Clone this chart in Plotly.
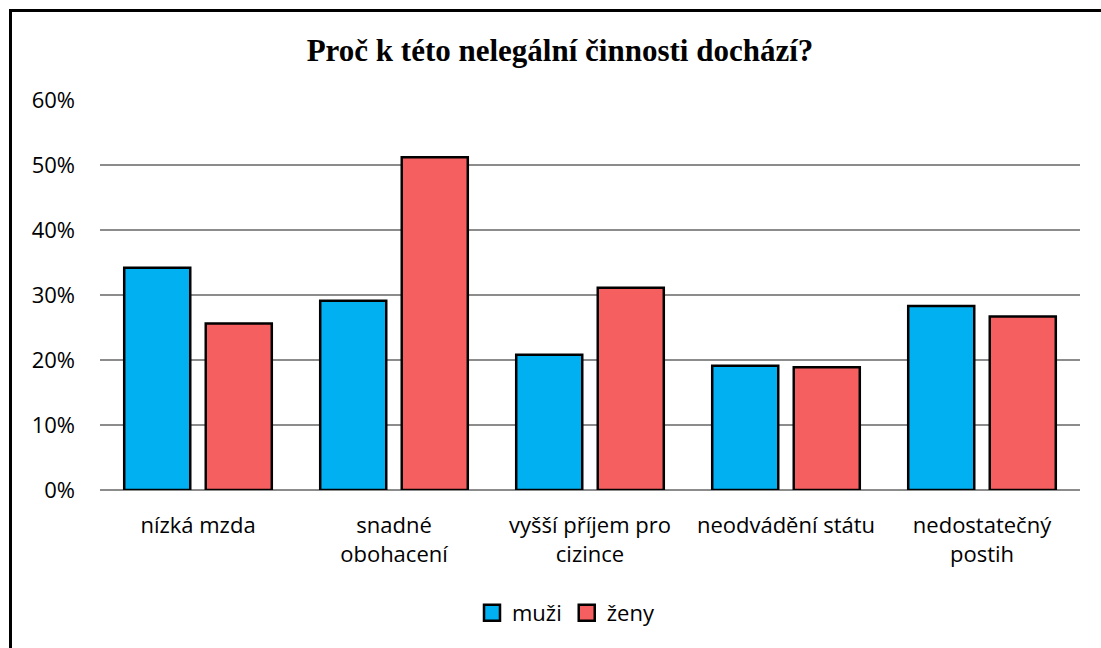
import plotly.graph_objects as go

categories = ["nízká mzda", "snadné<br>obohacení", "vyšší příjem pro<br>cizince", "neodvádění státu", "nedostatečný<br>postih"]
muzi = [0.342, 0.291, 0.208, 0.191, 0.283]
zeny = [0.256, 0.512, 0.311, 0.189, 0.267]
yticks = [0, 0.1, 0.2, 0.3, 0.4, 0.5, 0.6]
ytick_labels = ["0%", "10%", "20%", "30%", "40%", "50%", "60%"]

FONT = "Open Sans"
BLUE = "#00B0F0"
RED = "#F65F5F"

fig = go.Figure()
fig.add_trace(go.Bar(name="muži", x=categories, y=muzi, showlegend=False,
                     marker=dict(color=BLUE, line=dict(color="black", width=2.5))))
fig.add_trace(go.Bar(name="ženy", x=categories, y=zeny, showlegend=False,
                     marker=dict(color=RED, line=dict(color="black", width=2.5))))
for nm, col in [("muži", BLUE), ("ženy", RED)]:
    fig.add_trace(go.Scatter(x=[None], y=[None], mode="markers", name=nm,
                             marker=dict(symbol="square", size=16, color=col,
                                         line=dict(color="black", width=2.5))))

W, H = 1101, 648
L, R, T, B = 100, 21, 100, 158
pw, ph = W - L - R, H - T - B

def px_to_paper_x(px):
    return (px - L) / pw

def px_to_paper_y(py):
    return (H - B - py) / ph

fig.update_layout(
    width=W, height=H,
    margin=dict(l=L, r=R, t=T, b=B),
    paper_bgcolor="white", plot_bgcolor="white",
    barmode="group", bargap=0.168, bargroupgap=0.19,
    title=dict(text="<b>Proč k této nelegální činnosti dochází?</b>",
               font=dict(family="Liberation Serif", size=31, color="black"),
               x=px_to_paper_x(560), xanchor="center", xref="paper",
               y=1 - 50 / H, yanchor="middle"),
    font=dict(family=FONT, size=22, color="black"),
    xaxis=dict(showgrid=False, ticks="", tickfont=dict(family=FONT, size=22, color="black"),
               showline=False, ticklabelstandoff=20),
    yaxis=dict(range=[0, 0.6], tickvals=yticks, ticktext=ytick_labels,
               showgrid=True, gridcolor="#8c8c8c", gridwidth=1.5,
               zeroline=True, zerolinecolor="#8c8c8c", zerolinewidth=1.5,
               tickfont=dict(family=FONT, size=22, color="black"), ticks="",
               showline=False, ticklabelstandoff=24),
    legend=dict(orientation="h", x=px_to_paper_x(566), xanchor="center",
                y=px_to_paper_y(613), yanchor="middle",
                font=dict(family=FONT, size=22, color="black"),
                itemwidth=30, tracegroupgap=0),
    showlegend=True,
)

# chart-area frame (left and top edges visible in the reference)
fig.add_shape(type="line", xref="paper", yref="paper",
              x0=px_to_paper_x(10.5), x1=px_to_paper_x(10.5),
              y0=px_to_paper_y(700), y1=px_to_paper_y(9),
              line=dict(color="black", width=3), layer="above")
fig.add_shape(type="line", xref="paper", yref="paper",
              x0=px_to_paper_x(9), x1=px_to_paper_x(1200),
              y0=px_to_paper_y(10.5), y1=px_to_paper_y(10.5),
              line=dict(color="black", width=3), layer="above")

fig.write_html("out.html", config={"displayModeBar": False},
               post_script="document.body.style.margin='0';document.body.style.overflow='hidden';")
